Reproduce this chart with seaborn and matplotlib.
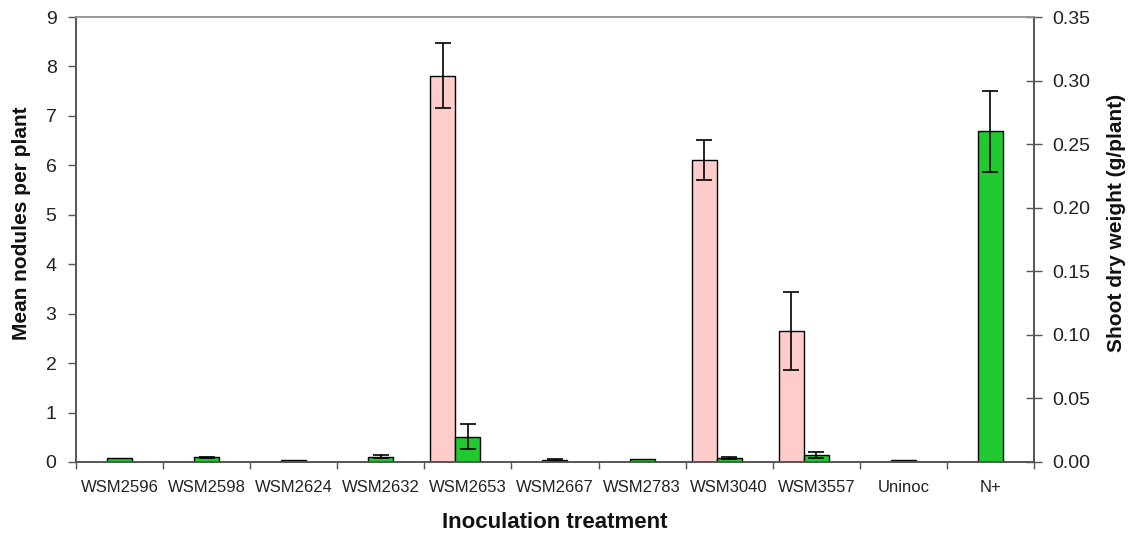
import numpy as np
import pandas as pd
import matplotlib
matplotlib.use("Agg")
import matplotlib.pyplot as plt
import seaborn as sns

# data
treatments = ["WSM2596", "WSM2598", "WSM2624", "WSM2632", "WSM2653", "WSM2667",
              "WSM2783", "WSM3040", "WSM3557", "Uninoc", "N+"]
nodules = [0, 0, 0, 0, 7.81, 0, 0, 6.11, 2.65, 0, 0]
nodules_err = [0, 0, 0, 0, 0.66, 0, 0, 0.40, 0.78, 0, 0]
shoot_wt = [0.0030, 0.0036, 0.0017, 0.0040, 0.0200, 0.0017, 0.0027, 0.0032, 0.0055, 0.0014, 0.2600]
shoot_err = [0.0, 0.0006, 0.0, 0.0012, 0.0100, 0.0010, 0.0, 0.0010, 0.0020, 0.0, 0.0320]

PINK = "#FFCCCC"
GREEN = "#1FC92F"
BAR_W = 0.287

sns.set_style("white")
plt.rcParams["font.family"] = ["Liberation Sans", "DejaVu Sans"]
plt.rcParams["text.color"] = "#111111"
plt.rcParams["axes.labelcolor"] = "#111111"
plt.rcParams["xtick.labelcolor"] = "#222222"
plt.rcParams["ytick.labelcolor"] = "#222222"

df = pd.DataFrame({"treatment": treatments, "nodules": nodules, "shoot": shoot_wt})

fig = plt.figure(figsize=(11.31, 5.37), dpi=100)
ax = fig.add_axes([0.0672, 0.1397, 0.8470, 0.8286])
ax2 = ax.twinx()

# nodules (left axis), placed just left of the category centre
sns.barplot(data=df, x="treatment", y="nodules", color=PINK, width=BAR_W,
            edgecolor="black", linewidth=1, saturation=1, errorbar=None, ax=ax)
for p in ax.patches:
    p.set_x(p.get_x() - BAR_W)
    if p.get_height() == 0:
        p.set_visible(False)
x = np.arange(len(treatments))
nod_err = np.array(nodules_err)
mask = nod_err > 0
ax.errorbar(x[mask] - BAR_W, np.array(nodules)[mask], yerr=nod_err[mask], fmt="none",
            ecolor="black", elinewidth=1.2, capsize=6, capthick=1.2)

# shoot dry weight (right axis), centred in each category
sns.barplot(data=df, x="treatment", y="shoot", color=GREEN, width=BAR_W,
            edgecolor="black", linewidth=1, saturation=1, errorbar=None, ax=ax2)
sh_err = np.array(shoot_err)
mask2 = sh_err > 0
ax2.errorbar(x[mask2], np.array(shoot_wt)[mask2], yerr=sh_err[mask2], fmt="none",
             ecolor="black", elinewidth=1.2, capsize=6, capthick=1.2)

ax.set_xlim(-0.5, len(treatments) - 0.5)
ax.set_ylim(0, 9)
ax2.set_ylim(0, 0.35)
ax.set_yticks(range(0, 10))
ax2.set_yticks(np.arange(0, 0.351, 0.05))
ax2.set_yticklabels([f"{v:.2f}" for v in np.arange(0, 0.351, 0.05)])

# category ticks between bars, labels at centres
ax.set_xticks(np.arange(-0.5, len(treatments)), minor=False)
ax.set_xticklabels([])
ax.set_xticks(x, minor=True)
ax.set_xticklabels(treatments, minor=True, fontsize=12)
ax.tick_params(axis="x", which="minor", length=0, pad=13)
ax.tick_params(axis="x", which="major", direction="out", length=5, width=1,
               color="#555555", bottom=True)
ax.tick_params(axis="y", direction="out", length=6, width=1, color="#555555",
               labelsize=14, pad=8, left=True)
ax2.tick_params(axis="y", direction="inout", length=12, width=1, color="#555555",
                labelsize=14, pad=7, right=True)

for a in (ax, ax2):
    for s in a.spines.values():
        s.set_color("#555555")
        s.set_linewidth(1.2)
    a.spines["top"].set_color("#999999")

ax.set_xlabel("Inoculation treatment", fontsize=16, fontweight="bold")
ax.xaxis.set_label_coords(0.5, -0.113)
ax.set_ylabel("Mean nodules per plant", fontsize=15, fontweight="bold")
ax.yaxis.set_label_coords(-0.047, 0.537)
ax2.set_ylabel("Shoot dry weight (g/plant)", fontsize=15, fontweight="bold",
               rotation=90)
ax2.yaxis.set_label_coords(1.076, 0.537)

fig.savefig("out.png", dpi=100)
